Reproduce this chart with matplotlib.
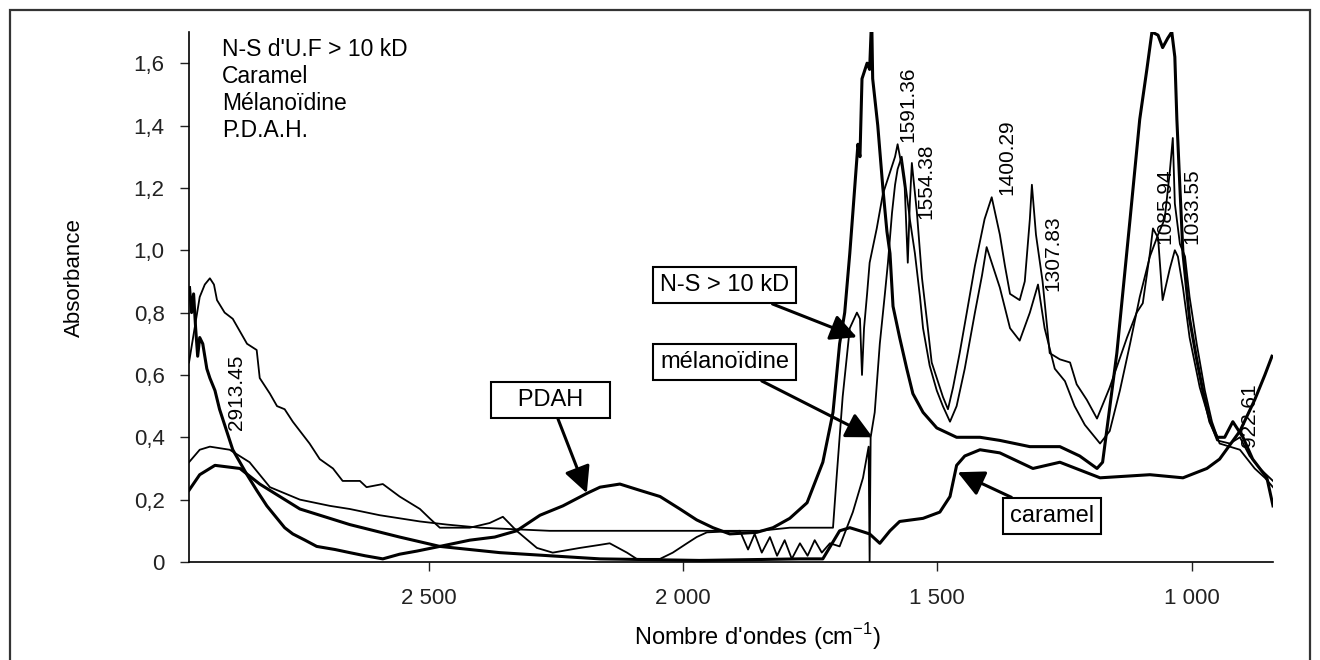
import matplotlib
matplotlib.use('Agg')
import matplotlib.pyplot as plt
from matplotlib.patches import Rectangle

plt.rcParams['font.family'] = ['Liberation Sans', 'DejaVu Sans']
plt.rcParams['mathtext.fontset'] = 'custom'
plt.rcParams['mathtext.rm'] = 'Liberation Sans'

# spectres : nombre d'ondes (cm-1) / absorbance
wn_pdah = [2970, 2966, 2962, 2958, 2954, 2950, 2944, 2936, 2930, 2920, 2911, 2901, 2893, 2885,
           2871, 2857, 2838, 2818, 2798, 2783, 2767, 2743, 2720, 2684, 2655, 2625, 2590, 2557,
           2523, 2478, 2419, 2370, 2327, 2281, 2236, 2189, 2163, 2124, 2085, 2045, 2006, 1973,
           1941, 1908, 1855, 1823, 1790, 1756, 1725, 1705, 1692, 1682, 1672, 1666, 1656, 1652,
           1648, 1638, 1633, 1629, 1627, 1617, 1607, 1599, 1593, 1587, 1574, 1560, 1548, 1528,
           1501, 1462, 1416, 1377, 1318, 1259, 1220, 1186, 1175, 1147, 1121, 1102, 1088, 1078,
           1066, 1057, 1047, 1039, 1033, 1029, 1023, 1017, 1004, 990, 978, 964, 950, 935, 919,
           899, 880, 852, 840]
abs_pdah = [0.88, 0.80, 0.86, 0.75, 0.66, 0.72, 0.70, 0.62, 0.59, 0.55, 0.49, 0.44, 0.40, 0.36,
            0.32, 0.28, 0.23, 0.18, 0.14, 0.11, 0.09, 0.07, 0.05, 0.04, 0.03, 0.02, 0.01, 0.025,
            0.035, 0.05, 0.07, 0.08, 0.10, 0.15, 0.18, 0.22, 0.24, 0.25, 0.23, 0.21, 0.17, 0.135,
            0.11, 0.09, 0.095, 0.11, 0.14, 0.19, 0.32, 0.48, 0.70, 0.80, 0.99, 1.12, 1.34, 1.30,
            1.55, 1.60, 1.58, 1.75, 1.55, 1.40, 1.20, 1.06, 0.99, 0.82, 0.72, 0.62, 0.54, 0.48,
            0.43, 0.40, 0.40, 0.39, 0.37, 0.37, 0.34, 0.30, 0.32, 0.67, 1.10, 1.42, 1.58, 1.70,
            1.69, 1.65, 1.68, 1.70, 1.62, 1.42, 1.20, 0.99, 0.78, 0.65, 0.55, 0.45, 0.40, 0.40, 0.45,
            0.40, 0.33, 0.27, 0.18]

wn_ns = [2971, 2950, 2930, 2891, 2852, 2812, 2753, 2694, 2655, 2596, 2517, 2464, 2399, 2262,
         2124, 1967, 1849, 1790, 1705, 1698, 1686, 1672, 1658, 1652, 1648, 1644, 1638, 1633,
         1619, 1607, 1593, 1583, 1578, 1570, 1564, 1558, 1554, 1550, 1540, 1530, 1520, 1511,
         1501, 1489, 1479, 1469, 1456, 1442, 1426, 1407, 1393, 1377, 1367, 1357, 1338, 1328,
         1318, 1314, 1306, 1293, 1279, 1259, 1239, 1226, 1206, 1186, 1161, 1127, 1108, 1096,
         1082, 1076, 1066, 1057, 1043, 1033, 1027, 1017, 1004, 984, 964, 950, 925, 905, 886,
         866, 840]
abs_ns = [0.32, 0.36, 0.37, 0.36, 0.32, 0.24, 0.20, 0.18, 0.17, 0.15, 0.13, 0.12, 0.11, 0.10,
          0.10, 0.10, 0.10, 0.11, 0.11, 0.27, 0.53, 0.75, 0.80, 0.78, 0.60, 0.75, 0.86, 0.96,
          1.07, 1.18, 1.25, 1.30, 1.34, 1.27, 1.20, 0.96, 1.15, 1.28, 1.12, 0.91, 0.77, 0.64,
          0.59, 0.53, 0.49, 0.56, 0.67, 0.80, 0.95, 1.10, 1.17, 1.05, 0.95, 0.86, 0.84, 0.90,
          1.10, 1.21, 1.05, 0.90, 0.67, 0.65, 0.64, 0.57, 0.52, 0.46, 0.56, 0.72, 0.80, 0.83,
          0.99, 1.07, 1.04, 0.84, 0.94, 1.00, 0.98, 0.88, 0.72, 0.56, 0.45, 0.39, 0.38, 0.40, 0.34,
          0.30, 0.26]

wn_mel = [2971, 2960, 2950, 2940, 2930, 2922, 2916, 2901, 2885, 2857, 2838, 2832, 2812, 2798,
          2783, 2767, 2734, 2714, 2688, 2669, 2635, 2622, 2590, 2557, 2517, 2498, 2478, 2419,
          2380, 2354, 2327, 2287, 2256, 2203, 2163, 2144, 2110, 2091, 2045, 2020, 1992, 1973,
          1953, 1888, 1872, 1859, 1845, 1829, 1815, 1800, 1786, 1770, 1755, 1741, 1727, 1711,
          1692, 1666, 1646, 1635, 1633, 1631, 1623, 1613, 1603, 1597, 1589, 1583, 1578, 1570,
          1564, 1554, 1544, 1534, 1528, 1515, 1501, 1489, 1475, 1462, 1446, 1426, 1412, 1403,
          1391, 1377, 1357, 1338, 1318, 1302, 1289, 1269, 1249, 1230, 1210, 1190, 1180, 1161,
          1141, 1121, 1102, 1082, 1066, 1053, 1043, 1037, 1033, 1023, 1013, 1004, 990, 974, 960,
          945, 925, 905, 876, 856, 840]
abs_mel = [0.64, 0.75, 0.85, 0.89, 0.91, 0.89, 0.84, 0.80, 0.78, 0.70, 0.68, 0.59, 0.54, 0.50,
           0.49, 0.45, 0.38, 0.33, 0.30, 0.26, 0.26, 0.24, 0.25, 0.21, 0.17, 0.14, 0.11, 0.11,
           0.125, 0.145, 0.10, 0.045, 0.03, 0.045, 0.055, 0.06, 0.03, 0.01, 0.01, 0.03, 0.06, 0.08,
           0.095, 0.10, 0.04, 0.09, 0.03, 0.08, 0.02, 0.07, 0.01, 0.06, 0.02, 0.07, 0.03, 0.06,
           0.05, 0.16, 0.27, 0.37, 0.0, 0.40, 0.48, 0.70, 0.86, 0.96, 1.12, 1.21, 1.26, 1.30,
           1.23, 1.10, 0.99, 0.85, 0.75, 0.63, 0.55, 0.50, 0.45, 0.50, 0.62, 0.80, 0.92, 1.01,
           0.95, 0.88, 0.75, 0.71, 0.80, 0.89, 0.75, 0.62, 0.58, 0.50, 0.44, 0.40, 0.38, 0.42,
           0.55, 0.70, 0.85, 0.98, 1.05, 1.10, 1.25, 1.36, 1.15, 1.02, 0.98, 0.85, 0.70, 0.55, 0.45,
           0.38, 0.37, 0.36, 0.30, 0.27, 0.24]

wn_car = [2971, 2950, 2920, 2871, 2832, 2753, 2655, 2557, 2478, 2360, 2262, 2163, 1967, 1770,
          1725, 1692, 1672, 1652, 1633, 1613, 1593, 1574, 1528, 1495, 1475, 1462, 1446, 1416,
          1377, 1312, 1259, 1180, 1082, 1017, 970, 945, 905, 876, 856, 842]
abs_car = [0.23, 0.28, 0.31, 0.30, 0.25, 0.17, 0.12, 0.08, 0.05, 0.03, 0.02, 0.01, 0.005, 0.01,
           0.01, 0.10, 0.11, 0.10, 0.09, 0.06, 0.10, 0.13, 0.14, 0.16, 0.21, 0.31, 0.34, 0.36,
           0.35, 0.30, 0.32, 0.27, 0.28, 0.27, 0.30, 0.33, 0.42, 0.52, 0.60, 0.66]

xticks = [2500, 2000, 1500, 1000]
xtick_labels = ['2 500', '2 000', '1 500', '1 000']
yticks = [0, 0.2, 0.4, 0.6, 0.8, 1.0, 1.2, 1.4, 1.6]
ytick_labels = ['0', '0,2', '0,4', '0,6', '0,8', '1,0', '1,2', '1,4', '1,6']
legend_lines = ["N-S d'U.F > 10 kD", 'Caramel', 'Mélanoïdine', 'P.D.A.H.']
peak_names = ['2913.45', '1591.36', '1554.38', '1400.29', '1307.83', '1085.94', '1033.55', '922.61']

fig = plt.figure(figsize=(13.2, 6.6), dpi=100)
ax = fig.add_axes([0.1432, 0.1485, 0.8212, 0.803])

ax.plot(wn_pdah, abs_pdah, color='black', lw=2.2)
ax.plot(wn_ns, abs_ns, color='black', lw=1.3)
ax.plot(wn_mel, abs_mel, color='black', lw=1.3)
ax.plot(wn_car, abs_car, color='black', lw=2.2)

ax.set_xlim(2971, 840)
ax.set_ylim(0, 1.70)
ax.set_xticks(xticks)
ax.set_xticklabels(xtick_labels)
ax.set_yticks(yticks)
ax.set_yticklabels(ytick_labels)
for s in ['top', 'right']:
    ax.spines[s].set_visible(False)
for s in ['left', 'bottom']:
    ax.spines[s].set_linewidth(1.2)
ax.tick_params(axis='both', direction='out', length=6.5, width=1, labelsize=16, colors='#222222')
ax.tick_params(axis='y', pad=11)
ax.tick_params(axis='x', pad=12)

ax.set_ylabel('Absorbance', fontsize=16, va='center')
ax.yaxis.set_label_coords(-0.106, 0.536)
ax.set_xlabel("Nombre d'ondes (cm$^{-1}$)", fontsize=17, va='center')
ax.xaxis.set_label_coords(0.524, -0.1415)

# positions des étiquettes de pics (wn, absorbance)
peak_pos = [(2877, 0.545), (1558, 1.468), (1522, 1.22), (1363, 1.30),
            (1273, 0.99), (1053, 1.14), (1000, 1.14), (887, 0.47)]
for name, (px, py) in zip(peak_names, peak_pos):
    ax.text(px, py, name, rotation=90, ha='center', va='center', fontsize=15)

fig.text(0.168, 0.942, '\n'.join(legend_lines), ha='left', va='top',
         fontsize=16.5, linespacing=1.22)

box = dict(boxstyle='square,pad=0.3', fc='white', ec='black', lw=1.5)
arrow = dict(arrowstyle='-|>,head_length=0.8,head_width=0.4', color='black', lw=2.2,
             mutation_scale=20, shrinkA=0, shrinkB=0)
annots = [('N-S > 10 kD', (1658, 0.721), (1918, 0.888)),
          ('mélanoïdine', (1627, 0.40), (1918, 0.641)),
          ('   PDAH   ', (2189, 0.221), (2260, 0.519)),
          ('caramel', (1460, 0.288), (1275, 0.147))]
for txt, tip, pos in annots:
    ax.annotate(txt, xy=tip, xytext=pos, ha='center', va='center', fontsize=17,
                bbox=box, arrowprops=arrow)

fig.patches.append(Rectangle((10 / 1320, -0.02), 1300 / 1320, 1.005, transform=fig.transFigure,
                             fill=False, ec='#333333', lw=1.6))

fig.savefig('out.png', dpi=100)
